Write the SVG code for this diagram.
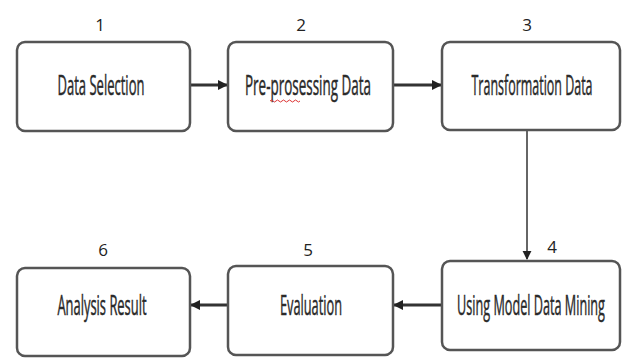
<svg xmlns="http://www.w3.org/2000/svg" width="623" height="359" viewBox="0 0 623 359">
<defs>
<style>
.box{fill:#fff;stroke:#555;stroke-width:2.5}
.lbl{font-family:"Open Sans","Liberation Sans",sans-serif;font-size:27px;fill:#2a2a2a;stroke:#2a2a2a;stroke-width:0.5;text-anchor:middle}
.num{font-family:"Open Sans","Liberation Sans",sans-serif;font-size:17px;fill:#222;text-anchor:middle}
.conn{stroke:#333;stroke-width:3;fill:none}
.thin{stroke:#333;stroke-width:1.5;fill:none}
</style>
<marker id="ah" viewBox="0 0 10 10" refX="9" refY="5" markerWidth="3.4" markerHeight="3.6" orient="auto" markerUnits="strokeWidth"><path d="M0,0 L10,5 L0,10 z" fill="#222"/></marker>
<marker id="ah2" viewBox="0 0 10 10" refX="9" refY="5" markerWidth="6" markerHeight="8" orient="auto" markerUnits="strokeWidth"><path d="M0,0 L10,5 L0,10 z" fill="#222"/></marker>
</defs>
<rect width="623" height="359" fill="#fff"/>
<g id="connectors">
<line class="conn" x1="191" y1="85" x2="227" y2="85" marker-end="url(#ah)"/>
<line class="conn" x1="394" y1="85" x2="441" y2="85" marker-end="url(#ah)"/>
<line class="thin" x1="527" y1="131" x2="527" y2="259" marker-end="url(#ah2)"/>
<line class="conn" x1="441" y1="305" x2="394" y2="305" marker-end="url(#ah)"/>
<line class="conn" x1="227" y1="305" x2="191" y2="305" marker-end="url(#ah)"/>
</g>
<g id="n1">
<text class="num" x="100" y="31">1</text>
<rect class="box" x="17" y="42" width="173" height="89" rx="8"/>
<text class="lbl" transform="translate(101,95) scale(0.55,1)" textLength="158" lengthAdjust="spacingAndGlyphs">Data Selection</text>
</g>
<g id="n2">
<text class="num" x="301" y="31">2</text>
<rect class="box" x="228" y="42" width="165" height="89" rx="8"/>
<text class="lbl" transform="translate(308,95) scale(0.55,1)" textLength="229" lengthAdjust="spacingAndGlyphs">Pre-prosessing Data</text>
<path d="M270,101 q1.5,-2 3,0 t3,0 t3,0 t3,0 t3,0 t3,0 t3,0 t3,0 t3,0 t3,0" stroke="#d33" stroke-width="1" fill="none"/>
</g>
<g id="n3">
<text class="num" x="527" y="31">3</text>
<rect class="box" x="442" y="42" width="178" height="88" rx="8"/>
<text class="lbl" transform="translate(532,95) scale(0.55,1)" textLength="220" lengthAdjust="spacingAndGlyphs">Transformation Data</text>
</g>
<g id="n4">
<text class="num" x="552" y="253">4</text>
<rect class="box" x="442" y="261" width="178" height="89" rx="8"/>
<text class="lbl" transform="translate(531,315) scale(0.5,1)" textLength="296" lengthAdjust="spacingAndGlyphs">Using Model Data Mining</text>
</g>
<g id="n5">
<text class="num" x="308" y="256">5</text>
<rect class="box" x="228" y="266" width="165" height="89" rx="8"/>
<text class="lbl" transform="translate(311,315) scale(0.55,1)" textLength="113" lengthAdjust="spacingAndGlyphs">Evaluation</text>
</g>
<g id="n6">
<text class="num" x="103" y="256">6</text>
<rect class="box" x="17" y="268" width="173" height="88" rx="8"/>
<text class="lbl" transform="translate(102,315) scale(0.55,1)" textLength="162" lengthAdjust="spacingAndGlyphs">Analysis Result</text>
</g>
</svg>
